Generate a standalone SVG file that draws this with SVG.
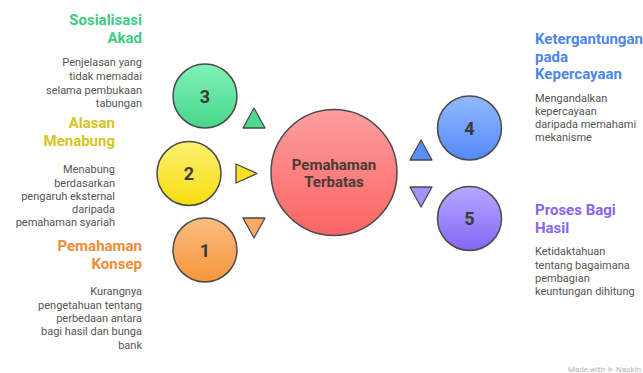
<svg xmlns="http://www.w3.org/2000/svg" width="643" height="373" viewBox="0 0 643 373">
<style>
.c{stroke:#4a4a4a;stroke-width:1.5}
.t{stroke:#4a4a4a;stroke-width:1.3;stroke-linejoin:round}
.num{font-family:Roboto,"Liberation Sans",sans-serif;font-weight:bold;font-size:18px;fill:#3a3a3a;text-anchor:middle}
.hd{font-family:Roboto,"Liberation Sans",sans-serif;font-weight:bold;font-size:15px}
.ds{font-family:Roboto,"Liberation Sans",sans-serif;font-size:11px;fill:#555}
.r{text-anchor:end}
</style>
<defs>
<linearGradient id="gG" x1="0" y1="0" x2="0" y2="1"><stop offset="0" stop-color="#82f2b8"/><stop offset="1" stop-color="#46d68a"/></linearGradient>
<linearGradient id="gY" x1="0" y1="0" x2="0" y2="1"><stop offset="0" stop-color="#fdf070"/><stop offset="1" stop-color="#f6dd10"/></linearGradient>
<linearGradient id="gO" x1="0" y1="0" x2="0" y2="1"><stop offset="0" stop-color="#fbbd80"/><stop offset="1" stop-color="#f7963c"/></linearGradient>
<linearGradient id="gR" x1="0" y1="0" x2="0" y2="1"><stop offset="0" stop-color="#fd9e9e"/><stop offset="1" stop-color="#fb6464"/></linearGradient>
<linearGradient id="gB" x1="0" y1="0" x2="0" y2="1"><stop offset="0" stop-color="#92b9ff"/><stop offset="1" stop-color="#5489f7"/></linearGradient>
<linearGradient id="gP" x1="0" y1="0" x2="0" y2="1"><stop offset="0" stop-color="#b6a8ff"/><stop offset="1" stop-color="#8566f6"/></linearGradient>
</defs>
<rect width="643" height="373" fill="#fff"/>
<g id="connectors">
<polygon class="t" points="254,108 243,128 265,128" fill="#4fd890"/>
<polygon class="t" points="236,164 257,173.5 236,183" fill="#f8e227"/>
<polygon class="t" points="243,218 265,218 254,238" fill="#f9aa66"/>
<polygon class="t" points="421,140 410,160 432,160" fill="#5a8ff8"/>
<polygon class="t" points="410,187 432,187 421,207" fill="#a593fc"/>
</g>
<g id="center">
<circle class="c" cx="334" cy="172.5" r="63" fill="url(#gR)"/>
<text class="hd" x="334" y="170" text-anchor="middle" fill="#4a3a3a">Pemahaman</text>
<text class="hd" x="334" y="187" text-anchor="middle" fill="#4a3a3a">Terbatas</text>
</g>
<g id="node3">
<circle class="c" cx="205" cy="96" r="32" fill="url(#gG)"/>
<text class="num" x="205" y="102.5">3</text>
<text class="hd r" x="142" y="25" fill="#3ecb84">Sosialisasi</text>
<text class="hd r" x="142" y="43" fill="#3ecb84">Akad</text>
<text class="ds r" x="142" y="66">Penjelasan yang</text>
<text class="ds r" x="142" y="80">tidak memadai</text>
<text class="ds r" x="142" y="93.5">selama pembukaan</text>
<text class="ds r" x="142" y="107">tabungan</text>
</g>
<g id="node2">
<circle class="c" cx="189" cy="173.5" r="32" fill="url(#gY)"/>
<text class="num" x="189" y="180">2</text>
<text class="hd r" x="115" y="128" fill="#d8c51e">Alasan</text>
<text class="hd r" x="115" y="146" fill="#d8c51e">Menabung</text>
<text class="ds r" x="115" y="173">Menabung</text>
<text class="ds r" x="115" y="186.5">berdasarkan</text>
<text class="ds r" x="115" y="199.5">pengaruh eksternal</text>
<text class="ds r" x="115" y="213">daripada</text>
<text class="ds r" x="115" y="226">pemahaman syariah</text>
</g>
<g id="node1">
<circle class="c" cx="205" cy="250" r="32" fill="url(#gO)"/>
<text class="num" x="205" y="256.5">1</text>
<text class="hd r" x="142" y="251" fill="#ef8c3a">Pemahaman</text>
<text class="hd r" x="142" y="269" fill="#ef8c3a">Konsep</text>
<text class="ds r" x="142" y="295">Kurangnya</text>
<text class="ds r" x="142" y="308.5">pengetahuan tentang</text>
<text class="ds r" x="142" y="322">perbedaan antara</text>
<text class="ds r" x="142" y="335">bagi hasil dan bunga</text>
<text class="ds r" x="142" y="348.5">bank</text>
</g>
<g id="node4">
<circle class="c" cx="469.5" cy="128" r="32" fill="url(#gB)"/>
<text class="num" x="469.5" y="134.5">4</text>
<text class="hd" x="535" y="44" fill="#4e86ef">Ketergantungan</text>
<text class="hd" x="535" y="61.5" fill="#4e86ef">pada</text>
<text class="hd" x="535" y="79" fill="#4e86ef">Kepercayaan</text>
<text class="ds" x="535" y="102">Mengandalkan</text>
<text class="ds" x="535" y="115">kepercayaan</text>
<text class="ds" x="535" y="128">daripada memahami</text>
<text class="ds" x="535" y="141">mekanisme</text>
</g>
<g id="node5">
<circle class="c" cx="469.5" cy="218.5" r="32" fill="url(#gP)"/>
<text class="num" x="469.5" y="225">5</text>
<text class="hd" x="535" y="215" fill="#8a66f0">Proses Bagi</text>
<text class="hd" x="535" y="233" fill="#8a66f0">Hasil</text>
<text class="ds" x="535" y="255">Ketidaktahuan</text>
<text class="ds" x="535" y="268.5">tentang bagaimana</text>
<text class="ds" x="535" y="282">pembagian</text>
<text class="ds" x="535" y="295">keuntungan dihitung</text>
</g>
<text x="568" y="372" font-family="Roboto,'Liberation Sans',sans-serif" font-size="8" fill="#b5b5b5">Made with ⋗ Napkin</text>
</svg>
